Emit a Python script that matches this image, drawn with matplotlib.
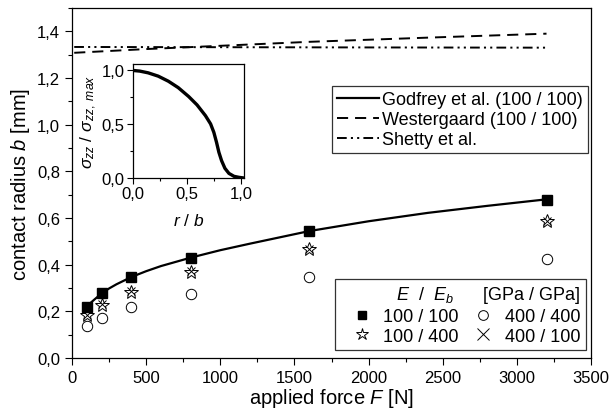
import matplotlib
matplotlib.use("Agg")
import matplotlib.pyplot as plt
from matplotlib.ticker import FuncFormatter, MultipleLocator
from matplotlib.lines import Line2D

plt.rcParams['font.family'] = ['Liberation Sans', 'DejaVu Sans']
plt.rcParams['mathtext.fontset'] = 'custom'
plt.rcParams['mathtext.rm'] = 'Liberation Sans'
plt.rcParams['mathtext.it'] = 'Liberation Sans:italic'
plt.rcParams['mathtext.bf'] = 'Liberation Sans:bold'
plt.rcParams['lines.scale_dashes'] = False

# ---- data ----
force = [100, 200, 400, 800, 1600, 3200]
b_100_100 = [0.220, 0.277, 0.347, 0.427, 0.546, 0.677]
b_100_400 = [0.183, 0.229, 0.285, 0.370, 0.466, 0.586]
b_400_400 = [0.136, 0.170, 0.219, 0.276, 0.346, 0.424]
b_400_100 = [0.185, 0.231, 0.287, 0.372, 0.468, 0.588]

godfrey_F = [100, 125, 150, 200, 250, 300, 400, 500, 600, 800, 1000, 1200,
             1600, 2000, 2400, 2800, 3200]
godfrey_b = [0.220, 0.236, 0.250, 0.277, 0.298, 0.316, 0.347, 0.372, 0.394, 0.430,
             0.462, 0.490, 0.544, 0.586, 0.622, 0.652, 0.680]

wester_F = [15, 500, 1000, 1600, 2400, 3200]
wester_b = [1.308, 1.324, 1.338, 1.355, 1.373, 1.390]

shetty_F = [15, 1000, 2000, 3200]
shetty_b = [1.333, 1.332, 1.331, 1.330]

inset_r = [0.0, 0.0625, 0.14, 0.234, 0.328, 0.42, 0.516, 0.594, 0.672, 0.72, 0.75,
           0.775, 0.797, 0.822, 0.853, 0.89, 0.9375, 0.984, 1.03]
inset_s = [1.0, 0.994, 0.978, 0.947, 0.90, 0.84, 0.758, 0.68, 0.58, 0.503, 0.425,
           0.332, 0.239, 0.161, 0.09, 0.043, 0.0155, 0.006, 0.0]

fig = plt.figure(figsize=(6.12, 4.10), dpi=100)
ax = fig.add_axes([72/612, 1-359/410, 519/612, 350/410])

l1, = ax.plot(godfrey_F, godfrey_b, color='black', lw=1.6, label='Godfrey et al. (100 / 100)')
l2, = ax.plot(wester_F, wester_b, color='black', lw=1.4, dashes=(8, 5), label='Westergaard (100 / 100)')
l3, = ax.plot(shetty_F, shetty_b, color='black', lw=1.4, dashes=(7, 3, 1.5, 3, 1.5, 3), label='Shetty et al.')

m1, = ax.plot(force, b_100_100, ls='none', marker='s', ms=7, mfc='black', mec='black')
m2, = ax.plot(force, b_100_400, ls='none', marker='*', ms=10, mfc='none', mec='black', mew=0.7)
m3, = ax.plot(force, b_400_400, ls='none', marker='o', ms=7.5, mfc='none', mec='black', mew=0.7)
m4, = ax.plot(force, b_400_100, ls='none', marker='x', ms=6, mec='black', mew=0.7)

ax.set_xlim(0, 3500)
ax.set_ylim(0, 1.5)
ax.xaxis.set_major_locator(MultipleLocator(500))
ax.xaxis.set_minor_locator(MultipleLocator(250))
ax.yaxis.set_major_locator(MultipleLocator(0.2))
ax.yaxis.set_minor_locator(MultipleLocator(0.1))
ax.yaxis.set_major_formatter(FuncFormatter(lambda v, p: f"{v:.1f}".replace('.', ',')))
ax.tick_params(which='both', direction='out', labelsize=12, width=0.8)
ax.tick_params(which='major', length=5)
ax.tick_params(which='minor', length=3)
for s in ax.spines.values():
    s.set_linewidth(0.9)
ax.set_xlabel(r"applied force $F$ [N]", fontsize=14.5, labelpad=1)
ax.set_ylabel(r"contact radius $b$ [mm]", fontsize=14.5, labelpad=4)

leg1 = ax.legend(handles=[l1, l2, l3], loc='upper right', bbox_to_anchor=(0.994, 0.777),
                 fontsize=13, frameon=True, fancybox=False, edgecolor='black',
                 handlelength=2.3, handletextpad=0.15, borderpad=0.3, labelspacing=0.15,
                 borderaxespad=0)
leg1.get_frame().set_linewidth(0.9)
ax.add_artist(leg1)

hs = [Line2D([], [], ls='none', marker='s', ms=6, mfc='black', mec='black'),
      Line2D([], [], ls='none', marker='*', ms=9, mfc='none', mec='black', mew=0.7),
      Line2D([], [], ls='none', marker='o', ms=7, mfc='none', mec='black', mew=0.7),
      Line2D([], [], ls='none', marker='x', ms=8, mec='black', mew=0.7)]
labs = ['100 / 100', '100 / 400', '400 / 400', '400 / 100']
leg2 = ax.legend(handles=hs, labels=labs, ncol=2, loc='lower right', bbox_to_anchor=(0.990, 0.023),
                 fontsize=13, frameon=True, fancybox=False, edgecolor='black',
                 title=r"$E$  /  $E_b$      [GPa / GPa]", title_fontsize=13,
                 handlelength=2.4, handletextpad=0.0, borderpad=0.3, labelspacing=0.15,
                 columnspacing=0.15, borderaxespad=0, alignment='right')
leg2.get_frame().set_linewidth(0.9)

# ---- inset ----
axi = fig.add_axes([133/612, 1-179/410, 111/612, 114/410])
axi.plot(inset_r, inset_s, color='black', lw=2.4)
axi.set_xlim(0, 1.03)
axi.set_ylim(0, 1.06)
axi.xaxis.set_major_locator(MultipleLocator(0.5))
axi.xaxis.set_minor_locator(MultipleLocator(0.25))
axi.yaxis.set_major_locator(MultipleLocator(0.5))
axi.yaxis.set_minor_locator(MultipleLocator(0.25))
fmt = FuncFormatter(lambda v, p: f"{v:.1f}".replace('.', ','))
axi.xaxis.set_major_formatter(fmt)
axi.yaxis.set_major_formatter(fmt)
axi.tick_params(which='both', direction='out', labelsize=12, width=0.8, pad=2)
axi.tick_params(which='major', length=4)
axi.tick_params(which='minor', length=2.5)
for s in axi.spines.values():
    s.set_linewidth(0.9)
axi.set_xlabel(r"$r$ / $b$", fontsize=12.5, labelpad=8)
axi.set_ylabel(r"$\sigma_{zz}$ / $\sigma_{zz,\ max}$", fontsize=12.5, labelpad=2)

fig.savefig("out.png", dpi=100)
